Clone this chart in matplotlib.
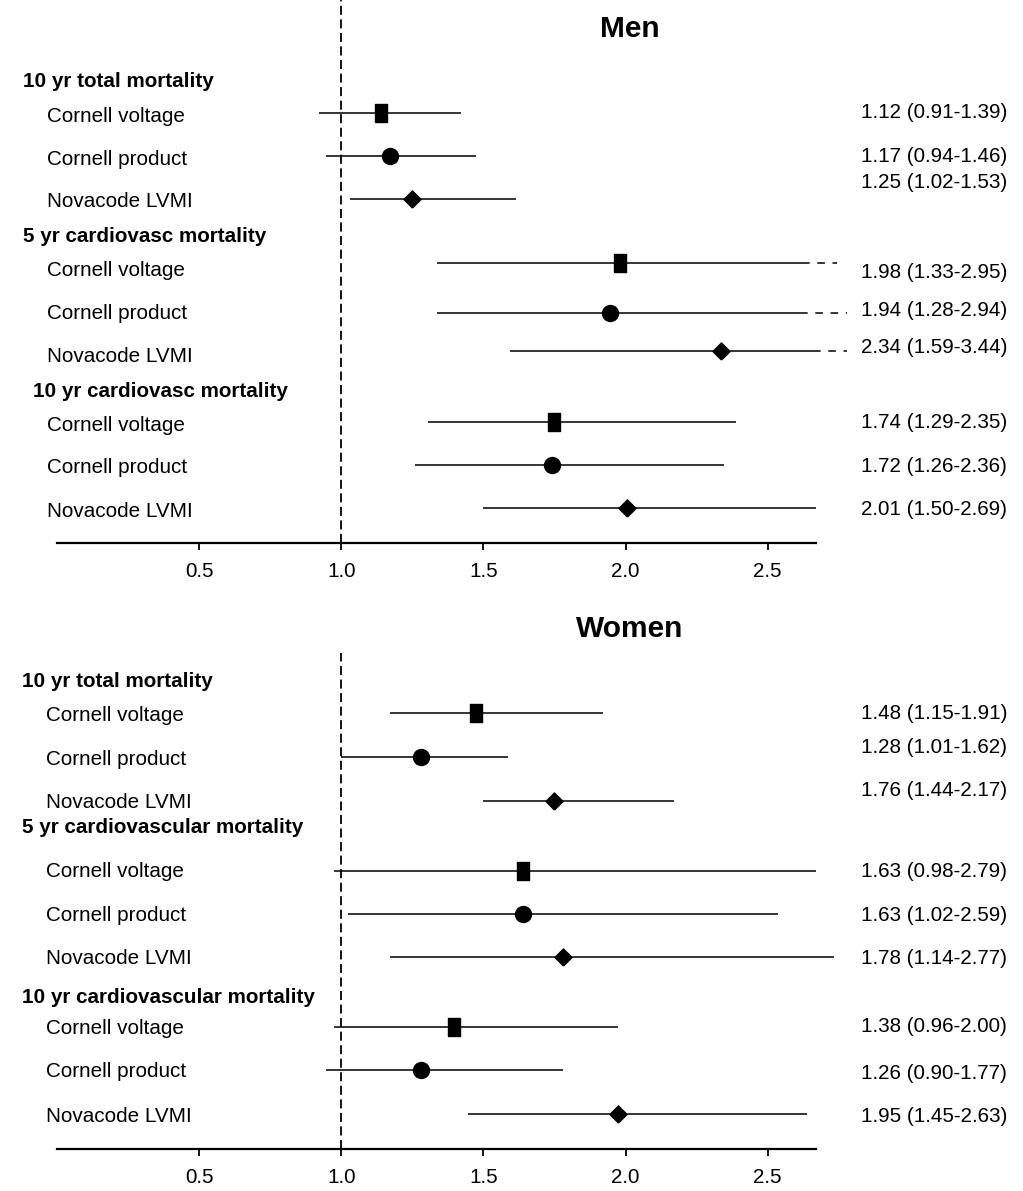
import numpy as np
import matplotlib
matplotlib.use("Agg")
import matplotlib.pyplot as plt

plt.rcParams["font.family"] = ["Liberation Sans", "DejaVu Sans"]

W, H = 1023, 1191
FS = 14.9

# rows: Cornell voltage, Cornell product, Novacode LVMI for each outcome
row_labels = ["Cornell voltage", "Cornell product", "Novacode LVMI"] * 3
marker_kind = ["sq", "o", "dia"] * 3

men_headers = ["10 yr total mortality", "5 yr cardiovasc mortality", "10 yr cardiovasc mortality"]
men_est = [1.14, 1.17, 1.25, 1.98, 1.945, 2.335, 1.75, 1.74, 2.005]
men_lo = [0.92, 0.945, 1.03, 1.335, 1.335, 1.595, 1.305, 1.26, 1.50]
men_hi = [1.42, 1.475, 1.615, 2.62, 2.615, 2.66, 2.39, 2.345, 2.67]
men_hi_ext = [None, None, None, 2.745, 2.78, 2.78, None, None, None]
men_text = ["1.12 (0.91-1.39)", "1.17 (0.94-1.46)", "1.25 (1.02-1.53)",
            "1.98 (1.33-2.95)", "1.94 (1.28-2.94)", "2.34 (1.59-3.44)",
            "1.74 (1.29-2.35)", "1.72 (1.26-2.36)", "2.01 (1.50-2.69)"]

women_headers = ["10 yr total mortality", "5 yr cardiovascular mortality", "10 yr cardiovascular mortality"]
women_est = [1.475, 1.28, 1.75, 1.64, 1.64, 1.78, 1.395, 1.28, 1.975]
women_lo = [1.17, 1.0, 1.50, 0.975, 1.025, 1.17, 0.975, 0.945, 1.445]
women_hi = [1.92, 1.585, 2.17, 2.67, 2.535, 2.735, 1.975, 1.78, 2.64]
women_hi_ext = [None] * 9
women_text = ["1.48 (1.15-1.91)", "1.28 (1.01-1.62)", "1.76 (1.44-2.17)",
              "1.63 (0.98-2.79)", "1.63 (1.02-2.59)", "1.78 (1.14-2.77)",
              "1.38 (0.96-2.00)", "1.26 (0.90-1.77)", "1.95 (1.45-2.63)"]

ticks = [0.5, 1.0, 1.5, 2.0, 2.5]
tick_labels = ["0.5", "1.0", "1.5", "2.0", "2.5"]

# layout in pixels (from top of the figure)
panels = [
    dict(title="Men", title_y=37, ax_top=0, ax_bot=543,
         headers=men_headers, header_x=[23, 23, 33], header_base=[87, 242, 397],
         row_y=[113, 156, 199, 263, 313, 351, 422, 465, 508],
         label_base=[122, 165, 207, 276, 319, 362, 431, 473, 517],
         text_base=[118, 162, 188, 278, 316, 353, 428, 472, 515],
         est=men_est, lo=men_lo, hi=men_hi, ext=men_hi_ext, txt=men_text, row_x=47),
    dict(title="Women", title_y=637, ax_top=653, ax_bot=1149,
         headers=women_headers, header_x=[22, 22, 22], header_base=[687, 833, 1003],
         row_y=[713, 757, 801, 871, 914, 957, 1027, 1070, 1114],
         label_base=[721, 765, 808, 877, 921, 964, 1034, 1077, 1122],
         text_base=[719, 753, 796, 877, 921, 964, 1032, 1079, 1122],
         est=women_est, lo=women_lo, hi=women_hi, ext=women_hi_ext, txt=women_text, row_x=46),
]

x0_px, x1_px = 57, 816
xmax = 2.67

sq = [(-0.36, -0.5), (0.36, -0.5), (0.36, 0.5), (-0.36, 0.5), (-0.36, -0.5)]
dia = [(0, -0.5), (0.5, 0), (0, 0.5), (-0.5, 0), (0, -0.5)]
markers = {"sq": (sq, 12.3), "o": ("o", 11.5), "dia": (dia, 12.3)}

fig = plt.figure(figsize=(W / 100, H / 100), dpi=100)


def fx(px):
    return px / W


def fy(py):
    return 1 - py / H


for p in panels:
    ax = fig.add_axes([fx(x0_px), fy(p["ax_bot"]), (x1_px - x0_px) / W,
                       (p["ax_bot"] - p["ax_top"]) / H])
    ax.set_xlim(0, xmax)
    ax.set_ylim(p["ax_bot"], p["ax_top"])
    for s in ["left", "right", "top"]:
        ax.spines[s].set_visible(False)
    ax.spines["bottom"].set_linewidth(1.6)
    ax.set_yticks([])
    ax.set_xticks(ticks)
    ax.set_xticklabels(tick_labels, fontsize=FS)
    ax.tick_params(axis="x", direction="out", length=5, width=1.3, pad=9)
    ax.patch.set_visible(False)

    ax.axvline(1.0, color="black", lw=1.3, ls=(0, (5, 2.5)), zorder=1)

    for i in range(9):
        y = p["row_y"][i]
        ax.hlines(y, p["lo"][i], p["hi"][i], color="black", lw=1.1, clip_on=False, zorder=2)
        if p["ext"][i] is not None:
            ax.hlines(y, p["hi"][i], p["ext"][i], color="black", lw=1.1,
                      linestyles=(0, (5, 5)), clip_on=False, zorder=2)
        m, ms = markers[marker_kind[i]]
        ax.plot(p["est"][i], y, marker=m, ms=ms, color="black", mec="black",
                ls="none", clip_on=False, zorder=3)

        fig.text(fx(p["row_x"]), fy(p["label_base"][i]), row_labels[i],
                 fontsize=FS, va="baseline", ha="left")
        fig.text(fx(861), fy(p["text_base"][i]), p["txt"][i],
                 fontsize=FS, va="baseline", ha="left")

    for j, h in enumerate(p["headers"]):
        fig.text(fx(p["header_x"][j]), fy(p["header_base"][j]), h,
                 fontsize=FS, fontweight="bold", va="baseline", ha="left")

    fig.text(fx(630), fy(p["title_y"]), p["title"], fontsize=21.5,
             fontweight="bold", va="baseline", ha="center")

fig.savefig("out.png", dpi=100)
